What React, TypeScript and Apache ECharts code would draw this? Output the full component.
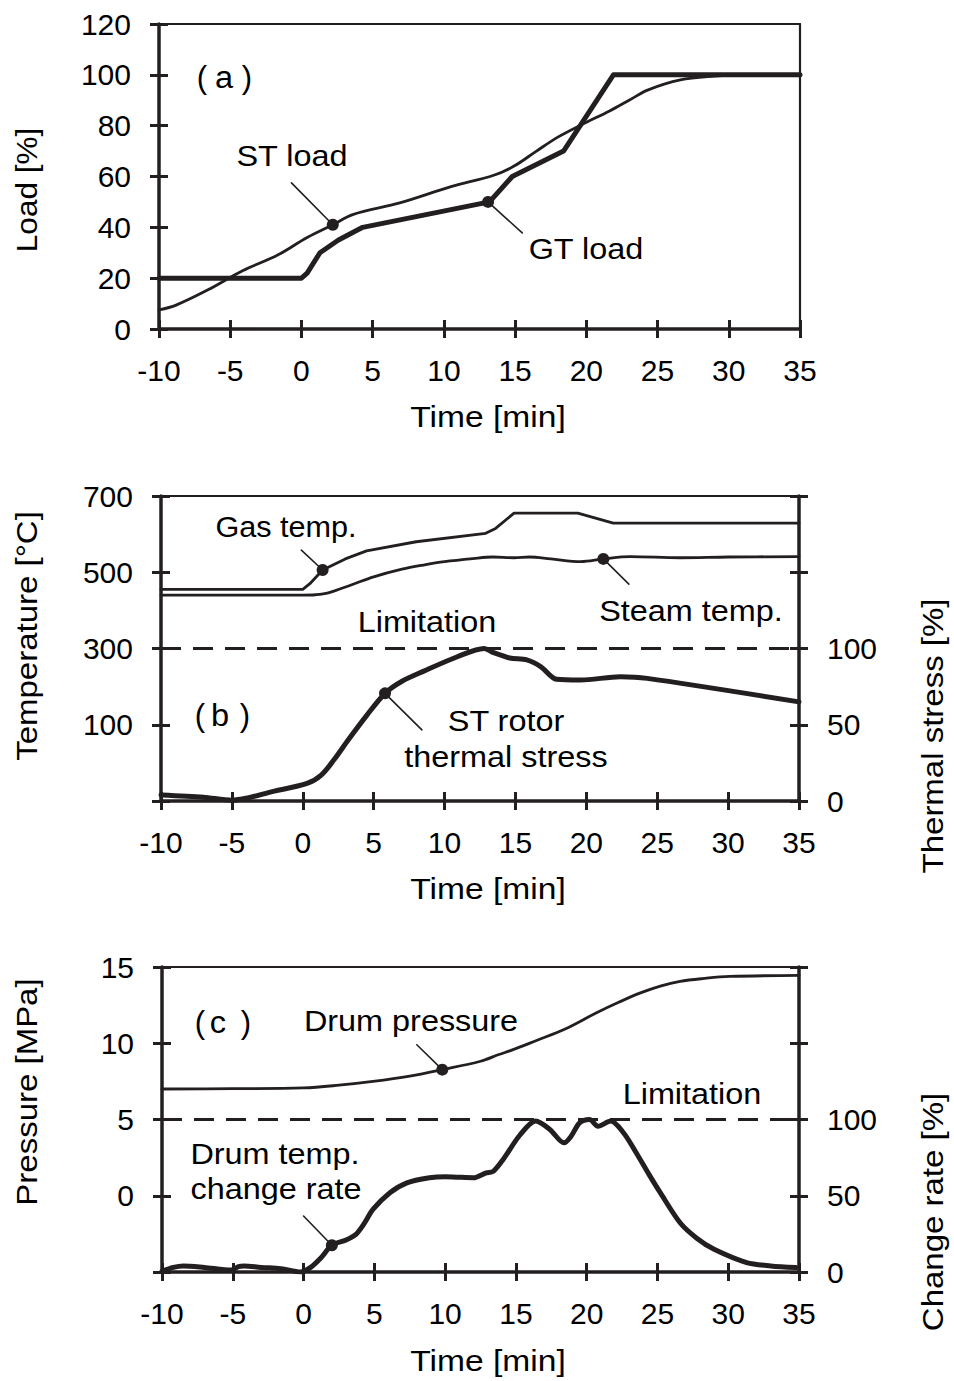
import React, { useEffect, useRef } from 'react';
import * as echarts from 'echarts';

const C = '#231f20';
const FONT = '"Liberation Sans", Arial, Helvetica, sans-serif';

// Time axis (all panels)
const timeMin = -10;
const timeMax = 35;
const timeStep = 5;

// ---------- Panel (a): Load [%] ----------
const gtLoad = [[-10, 20], [0, 20], [0.4, 22], [1.3, 30], [2.6, 35], [4.3, 40], [13.2, 50], [14.8, 60], [18.4, 70], [21.9, 100], [35, 100]];
const stLoad = [[-10, 7.5], [-8.8, 9.4], [-6.6, 15.3], [-4.1, 23], [-1.7, 29], [0.4, 36], [2.2, 41], [3.6, 45], [6.9, 49.6], [10.5, 56], [13.5, 60.5], [14.9, 64], [16.5, 70], [18, 75.5], [19.6, 80.2], [21.7, 86], [23, 90], [24.3, 94], [26.6, 98], [29, 99.5], [31, 100], [35, 100]];
const stLoadDot = [[2.2, 41]];
const gtLoadDot = [[13.1, 50]];
const stLoadLeader = [[-0.7, 57.5], [2.2, 41]];
const gtLoadLeader = [[13.1, 50], [15.5, 37.8]];

// ---------- Panel (b): Temperature [°C] / Thermal stress [%] ----------
const gasTemp = [[-10, 455], [0, 455], [0.5, 470], [1.4, 506], [3, 535], [4.5, 556], [8, 580], [12.9, 602], [13.6, 615], [14.9, 655], [19.4, 655], [21.9, 629], [35, 629]];
const steamTemp = [[-10, 440], [-5, 440], [0, 440], [0.9, 441], [1.8, 446], [3.5, 468], [5, 488], [7, 508], [8.5, 519], [10, 528], [12, 536], [13.4, 540], [14.9, 538], [16, 540], [17.5, 535], [19.6, 528], [21.2, 535], [23.1, 541], [26.6, 538], [30, 540], [35, 541]];
const rotorStress = [[-10, 4], [-7, 2.5], [-5, 0.5], [-2, 6.5], [0.3, 11.5], [1.3, 17], [2.2, 27], [3.2, 40], [4.5, 56], [5.8, 70.6], [7, 78.5], [8.5, 85], [10.9, 94.6], [12.8, 100], [13.4, 97.5], [14.6, 93.8], [15.8, 92.5], [16.8, 88], [17.9, 79.8], [19.6, 79.3], [22.4, 81.5], [24.3, 80.4], [35, 65]];
const tempLimit = [[-10, 300], [35, 300]];
const gasDot = [[1.4, 506]];
const steamDot = [[21.2, 535]];
const stressDot = [[5.8, 70.6]];
const gasLeader = [[-0.1, 558], [1.4, 506]];
const steamLeader = [[21.2, 535], [23, 469]];
const stressLeader = [[5.8, 70.6], [8.4, 46.6]];

// ---------- Panel (c): Pressure [MPa] / Change rate [%] ----------
const drumPressure = [[-10, 7.0], [-5, 7.02], [0, 7.07], [2.5, 7.25], [4.9, 7.5], [7.5, 7.85], [9.8, 8.27], [12.5, 8.82], [13.8, 9.26], [14.8, 9.58], [16.5, 10.2], [18.4, 10.9], [20.7, 12], [22.3, 12.7], [23.8, 13.3], [25.2, 13.75], [26.6, 14.06], [28.3, 14.25], [30.1, 14.38], [35, 14.45]];
const changeRate = [[-10, 0.5], [-9.2, 3], [-8.5, 4], [-7, 3], [-5.1, 1.3], [-4.6, 3.5], [-4.2, 4], [-3, 3], [-1.6, 2.2], [-0.2, 0], [0.5, 3], [1.2, 9], [2.0, 17.5], [3.0, 21], [3.7, 24.7], [4.3, 32], [4.9, 41], [6.1, 52], [7.3, 58.5], [8.9, 61.8], [10, 62.5], [10.8, 62.2], [12, 61.8], [12.9, 65], [13.4, 66], [14.1, 73.8], [15.3, 90], [16.4, 99], [17.4, 93.5], [18.4, 84.7], [18.9, 89], [19.5, 97.8], [20.2, 100], [20.8, 95.6], [21.7, 99], [22.6, 91.3], [23.5, 78.2], [24.4, 64], [25.2, 52], [26.6, 32.3], [27.8, 22], [29, 14.9], [31.3, 6.2], [33, 4], [34.8, 2.9]];
const pressLimit = [[-10, 5], [35, 5]];
const pressureDot = [[9.8, 8.27]];
const rateDot = [[2.0, 17.5]];
const pressureLeader = [[8.0, 9.9], [9.8, 8.27]];
const rateLeader = [[0, 36.7], [2.0, 17.5]];

const tickStyle = { color: C, width: 3 };
const MAIN_W = 3.5;

function xSet(g: number) {
  const base = { type: 'value', gridIndex: g, min: timeMin, max: timeMax, interval: timeStep, splitLine: { show: false } };
  return [
    {
      ...base, position: 'bottom',
      axisLine: { show: true, onZero: false, lineStyle: { color: C, width: MAIN_W } },
      axisTick: { show: true, inside: false, length: 9, lineStyle: tickStyle },
      axisLabel: { show: true, fontSize: 30, color: '#000', fontFamily: FONT, margin: 26 },
    },
    {
      ...base, position: 'bottom',
      axisLine: { show: false, onZero: false },
      axisTick: { show: true, inside: true, length: 9, lineStyle: tickStyle },
      axisLabel: { show: false },
    },
    {
      ...base, position: 'top',
      axisLine: { show: true, onZero: false, lineStyle: { color: C, width: 2.2 } },
      axisTick: { show: false },
      axisLabel: { show: false },
    },
  ];
}

function yMain(g: number, position: string, min: number, max: number, interval: number, fmt: (v: number) => string) {
  return [
    {
      type: 'value', gridIndex: g, position, min, max, interval, splitLine: { show: false },
      axisLine: { show: true, onZero: false, lineStyle: { color: C, width: MAIN_W } },
      axisTick: { show: true, inside: false, length: 9, lineStyle: tickStyle },
      axisLabel: { show: true, fontSize: 30, color: '#000', fontFamily: FONT, margin: 28, formatter: fmt },
    },
    {
      type: 'value', gridIndex: g, position, min, max, interval, splitLine: { show: false },
      axisLine: { show: false, onZero: false },
      axisTick: { show: true, inside: true, length: 9, lineStyle: tickStyle },
      axisLabel: { show: false },
    },
  ];
}

function line(data: number[][], xi: number, yi: number, width: number, smooth: number | boolean = false, extra: any = {}) {
  return {
    type: 'line', data, xAxisIndex: xi, yAxisIndex: yi, symbol: 'none', silent: true, smooth,
    lineStyle: { color: C, width, cap: 'round', join: 'round', ...extra },
    z: 3,
  };
}
function dot(data: number[][], xi: number, yi: number) {
  return { type: 'scatter', data, xAxisIndex: xi, yAxisIndex: yi, symbol: 'circle', symbolSize: 12, silent: true, itemStyle: { color: C, opacity: 1 }, z: 5 };
}
function leader(data: number[][], xi: number, yi: number) {
  return line(data, xi, yi, 1.6, false);
}

function txt(text: string, x: number, y: number, opts: any = {}) {
  return {
    type: 'text', x, y, rotation: opts.rot || 0, scaleX: opts.sx ?? 1.08, silent: true,
    style: {
      text, fontSize: opts.fs ?? 30, fontFamily: FONT, fill: '#000',
      align: 'center', verticalAlign: 'middle', textAlign: 'center', textVerticalAlign: 'middle',
    },
  };
}
// panel tag like (a): parentheses drawn separately, widely spaced as in the source
function tag(letter: string, xl: number, xm: number, xr: number, y: number) {
  return [
    txt('(', xl, y, { sx: 1, fs: 31 }),
    txt(letter, xm, y, { sx: 1.05, fs: 31 }),
    txt(')', xr, y, { sx: 1, fs: 31 }),
  ];
}

export default function App() {
  const ref = useRef<HTMLDivElement>(null);
  useEffect(() => {
    if (!ref.current) return;
    const chart = echarts.init(ref.current, undefined, { renderer: 'svg' });
    const xAxis = [...xSet(0), ...xSet(1), ...xSet(2)];
    const yAxis = [
      // grid 0
      ...yMain(0, 'left', 0, 120, 20, (v) => String(v)),
      {
        type: 'value', gridIndex: 0, position: 'right', min: 0, max: 120, interval: 20, splitLine: { show: false },
        axisLine: { show: true, onZero: false, lineStyle: { color: C, width: 2.2 } }, axisTick: { show: false }, axisLabel: { show: false },
      },
      // grid 1
      ...yMain(1, 'left', -100, 700, 200, (v) => (v < 0 ? '' : String(v))),
      ...yMain(1, 'right', 0, 200, 50, (v) => (v <= 100 ? String(v) : '')),
      // grid 2
      ...yMain(2, 'left', -5, 15, 5, (v) => (v < 0 ? '' : String(v))),
      ...yMain(2, 'right', 0, 200, 50, (v) => (v <= 100 ? String(v) : '')),
    ];
    const series = [
      // (a)
      line(gtLoad, 0, 0, 5),
      line(stLoad, 0, 0, 2.8, 0.35),
      dot(stLoadDot, 0, 0), dot(gtLoadDot, 0, 0),
      leader(stLoadLeader, 0, 0), leader(gtLoadLeader, 0, 0),
      // (b)
      line(gasTemp, 3, 3, 2.8),
      line(steamTemp, 3, 3, 2.8, 0.35),
      line(tempLimit, 3, 3, 3, false, { type: [20, 12], cap: 'butt' }),
      line(rotorStress, 3, 5, 5, 0.3),
      dot(gasDot, 3, 3), dot(steamDot, 3, 3), dot(stressDot, 3, 5),
      leader(gasLeader, 3, 3), leader(steamLeader, 3, 3), leader(stressLeader, 3, 5),
      // (c)
      line(drumPressure, 6, 7, 2.8, 0.35),
      line(pressLimit, 6, 7, 3, false, { type: [20, 12], cap: 'butt' }),
      line(changeRate, 6, 9, 5, 0.3),
      dot(pressureDot, 6, 7), dot(rateDot, 6, 9),
      leader(pressureLeader, 6, 7), leader(rateLeader, 6, 9),
    ];
    const R = Math.PI / 2;
    const graphic = [
      // axis titles
      txt('Load [%]', 27, 190, { rot: R, sx: 1.05 }),
      txt('Time [min]', 488, 417, { sx: 1.12 }),
      txt('Temperature [°C]', 27, 636, { rot: R, sx: 1.1 }),
      txt('Thermal stress [%]', 933, 736, { rot: R, sx: 1.1 }),
      txt('Time [min]', 488, 889, { sx: 1.12 }),
      txt('Pressure [MPa]', 27, 1092, { rot: R, sx: 1.1 }),
      txt('Change rate [%]', 933, 1212, { rot: R, sx: 1.1 }),
      txt('Time [min]', 488, 1361, { sx: 1.12 }),
      // panel (a)
      ...tag('a', 202, 224, 247, 77),
      txt('ST load', 292, 156),
      txt('GT load', 586, 249),
      // panel (b)
      txt('Gas temp.', 286, 527, { sx: 1.02 }),
      txt('Limitation', 427, 622),
      txt('Steam temp.', 691, 611),
      ...tag('b', 200, 220, 245, 715),
      txt('ST rotor', 506, 721),
      txt('thermal stress', 506, 757),
      // panel (c)
      ...tag('c', 200, 218, 246, 1022),
      txt('Drum pressure', 411, 1021),
      txt('Limitation', 692, 1094),
      txt('Drum temp.', 275, 1154),
      txt('change rate', 276, 1189),
    ];
    chart.setOption({
      animation: false,
      backgroundColor: '#fff',
      grid: [
        { left: 159, top: 24, width: 641, height: 305, outerBoundsMode: 'none' },
        { left: 161, top: 496, width: 638, height: 305, outerBoundsMode: 'none' },
        { left: 162, top: 967, width: 637, height: 305, outerBoundsMode: 'none' },
      ],
      xAxis,
      yAxis,
      series,
      graphic,
    });
    return () => chart.dispose();
  }, []);
  return <div ref={ref} style={{ position: 'absolute', left: 0, top: 0, width: 954, height: 1381 }} />;
}
